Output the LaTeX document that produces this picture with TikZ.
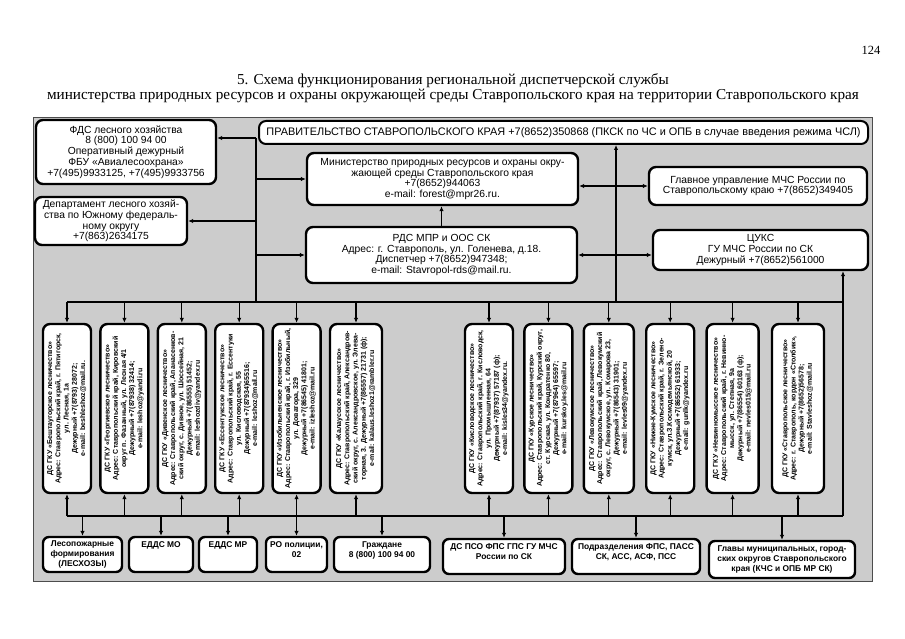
\documentclass[tikz,border=0pt]{standalone}
\usepackage{fontspec}
\setmainfont{Liberation Sans}
\newfontfamily\titlefont{Liberation Serif}
\usepackage{graphicx}
\usetikzlibrary{arrows.meta,positioning}
\tikzset{
frame_bg/.style={draw=black!70, line width=0.8pt, fill=black!20},
top_box/.style={rectangle, rounded corners=7pt, draw, line width=2.4pt, fill=white, align=center, inner sep=1pt, font=\fontsize{10.3}{10.8}\selectfont},
ds_box/.style={rectangle, rounded corners=7pt, draw, line width=2.4pt, fill=white, inner sep=0pt, minimum width=48pt, minimum height=169pt, font=\bfseries\fontsize{7}{8.2}\selectfont},
low_box/.style={rectangle, rounded corners=6pt, draw, line width=2.4pt, fill=white, align=center, inner sep=1pt, minimum height=35pt, font=\bfseries\fontsize{8.4}{10.2}\selectfont},
link/.style={line width=1.3pt},
>={Latex[length=5pt,width=4.5pt]}
}
\newcommand{\dstext}[1]{\rotatebox{90}{\begin{tabular}{@{}c@{}}#1\end{tabular}}}

\begin{document}
\begin{tikzpicture}[x=1pt,y=-1pt]
    \useasboundingbox (0,0) rectangle (905,639);
    \node[font=\titlefont\fontsize{12.5}{13}\selectfont] (page_no) at (871,50) {124};
    \node[font=\titlefont\fontsize{15.2}{15}\selectfont, align=center] (title) at (453,88) {5. Схема функционирования региональной диспетчерской службы\\ министерства природных ресурсов и охраны окружающей среды Ставропольского края на территории Ставропольского края};
    \draw[frame_bg] (33,117) rectangle (872,581);

    % upper level
    \node[top_box, minimum width=180pt, minimum height=64pt] (fds) at (126,152) {ФДС лесного хозяйства\\ 8 (800) 100 94 00\\ Оперативный дежурный\\ ФБУ «Авиалесоохрана»\\ +7(495)9933125, +7(495)9933756};
    \node[top_box, minimum width=152pt, minimum height=48pt] (dep) at (111,221) {Департамент лесного хозяй-\\ ства по Южному федераль-\\ ному округу\\ +7(863)2634175};
    \node[top_box, minimum width=609pt, minimum height=23pt, line width=2pt, font=\fontsize{10.9}{11}\selectfont] (prav) at (563.5,132.5) {ПРАВИТЕЛЬСТВО СТАВРОПОЛЬСКОГО КРАЯ +7(8652)350868 (ПКСК по ЧС и ОПБ в случае введения режима ЧСЛ)};
    \node[top_box, minimum width=271pt, minimum height=52pt] (min) at (442.5,179) {Министерство природных ресурсов и охраны окру-\\ жающей среды Ставропольского края\\ +7(8652)944063\\ e-mail: forest@mpr26.ru.};
    \node[top_box, minimum width=218pt, minimum height=38pt] (gu) at (758,186) {Главное управление МЧС России по\\ Ставропольскому краю +7(8652)349405};
    \node[top_box, minimum width=271pt, minimum height=56pt] (rds) at (441.5,255) {РДС МПР и ООС СК\\ Адрес: г. Ставрополь, ул. Голенева, д.18.\\ Диспетчер +7(8652)947348;\\ e-mail: Stavropol-rds@mail.ru.};
    \node[top_box, minimum width=215pt, minimum height=40pt] (cuks) at (760.5,250) {ЦУКС\\ ГУ МЧС России по СК\\ Дежурный +7(8652)561000};

    % forestries, left group
    \node[ds_box] (ds_1) at (67,408.5) {\dstext{ДС ГКУ «Бештаугорское лесничество»\\ Адрес: Ставропольский край, г. Пятигорск,\\ ул. Лесная, 1а\\ Дежурный +7(8793) 28072;\\ e-mail: beshleshoz@mail.ru.}};
    \node[ds_box] (ds_2) [right=7pt of ds_1] {\dstext{ДС ГКУ «Георгиевское лесничество»\\ Адрес: Ставропольский край, Кировский\\ округ п. Фазанный, ул. Лесная 4/1\\ Дежурный +7(87938) 32414;\\ e-mail: leshoz@yandi.ru}};
    \node[ds_box] (ds_3) [right=7pt of ds_2] {\dstext{ДС ГКУ «Дивенское лесничество»\\ Адрес: Ставропольский край, Апанасенков-\\ ский округ, с. Дивное, ул. Шоссейная, 21\\ Дежурный +7(86555) 51452;\\ e-mail: leshozdiv@yandex.ru}};
    \node[ds_box] (ds_4) [right=7pt of ds_3] {\dstext{ДС ГКУ «Ессентукское лесничество»\\ Адрес: Ставропольский край, г. Ессентуки\\ ул. Кисловодская, 55\\ Дежурный +7(87934)65516;\\ e-mail: leshoz@mail.ru}};
    \node[ds_box] (ds_5) [right=7pt of ds_4] {\dstext{ДС ГКУ «Изобильненское лесничество»\\ Адрес: Ставропольский край, г. Изобильный,\\ ул. Доватора, 329\\ Дежурный +7(86545) 41801;\\ e-mail: izleshoz@mail.ru}};
    \node[ds_box, minimum width=52pt] (ds_6) [right=7pt of ds_5] {\dstext{ДС ГКУ «Калаусское лесничество»\\ Адрес: Ставропольский край, Александров-\\ ский округ, с. Александровское, ул. Элева-\\ торная, 3. Дежурный +7(86557) 21731 (ф);\\ e-mail: kalaus.leshoz1@rambler.ru}};

    % forestries, right group
    \node[ds_box] (ds_7) at (489,408.5) {\dstext{ДС ГКУ «Кисловодское лесничество»\\ Адрес: Ставропольский край, г. Кисловодск,\\ ул. Промышленная, 64\\ Дежурный +7(87937) 57187 (ф);\\ e-mail: kisles34@yandex.ru.}};
    \node[ds_box] (ds_8) [right=9pt of ds_7] {\dstext{ДС ГКУ «Курское лесничество»\\ Адрес: Ставропольский край, Курский округ,\\ ст. Курская, ул. Кондратенко 80,\\ Дежурный +7(87964) 65597;\\ e-mail: kurskoy.les@mail.ru}};
    \node[ds_box, minimum width=50pt] (ds_9) [right=9pt of ds_8] {\dstext{ДС ГКУ «Левокумское лесничество»\\ Адрес: Ставропольский край, Левокумский\\ округ, с. Левокумское, ул. Комарова 23,\\ Дежурный +7(86543) 31901;\\ e-mail: levles09@yandex.ru}};
    \node[ds_box] (ds_10) [right=10pt of ds_9] {\dstext{ДС ГКУ «Нижне-Кумское лесничество»\\ Адрес: Ставропольский край, г. Зелено-\\ кумск, ул.З.Космодемьянской, 20\\ Дежурный +7(86552) 61933;\\ e-mail: gunlk@yandex.ru}};
    \node[ds_box, minimum width=52pt] (ds_11) [right=10pt of ds_10] {\dstext{ДС ГКУ «Невинномысское лесничество»\\ Адрес: Ставропольский край, г. Невинно-\\ мысск, ул. Степная, 9а\\ Дежурный +7(86554) 60163 (ф);\\ e-mail: nevles015@mail.ru}};
    \node[ds_box, minimum width=52pt] (ds_12) [right=11pt of ds_11] {\dstext{ДС ГКУ «Ставропольское лесничество»\\ Адрес: г. Ставрополь, кордон «Столбик»,\\ Дежурный +7(8652)56578;\\ e-mail: Stavleshoz@mail.ru}};

    % lower level
    \node[low_box, minimum width=79pt] (low_1) at (82.5,554.5) {Лесопожарные\\ формирования\\ (ЛЕСХОЗЫ)};
    \node[low_box, minimum width=64pt] (low_2) at (161,554.5) {ЕДДС МО\\ ~\\ ~};
    \node[low_box, minimum width=58pt] (low_3) at (228,554.5) {ЕДДС МР\\ ~\\ ~};
    \node[low_box, minimum width=61pt] (low_4) at (296.5,554.5) {РО полиции,\\ 02\\ ~};
    \node[low_box, minimum width=96pt] (low_5) at (382,554.5) {Граждане\\ 8 (800) 100 94 00\\ ~};
    \node[low_box, minimum width=122pt] (low_6) at (504,556.5) {ДС ПСО ФПС ГПС ГУ МЧС\\ России по СК\\ ~};
    \node[low_box, minimum width=128pt] (low_7) at (636,556.5) {Подразделения ФПС, ПАСС\\ СК, АСС, АСФ, ПСС\\ ~};
    \node[low_box, minimum width=146pt, minimum height=37pt] (low_8) at (782,559.5) {Главы муниципальных, город-\\ ских округов Ставропольского\\ края (КЧС и ОПБ МР СК)};

    % connectors
    \coordinate (bus_top) at (450,302);
    \coordinate (bus_bot) at (450,516);
    \coordinate (trunk) at (256,138);
    \coordinate (centre_line) at (616,302);
    \coordinate (right_line) at (843,516);
    \draw[link] (ds_1.north |- bus_top) -- (right_line |- bus_top);
    \draw[link] (ds_1.south |- bus_bot) -- (right_line);
    \draw[link, ->] (right_line) -- (right_line |- cuks.south);
    \draw[link] (trunk) -- (trunk |- bus_top);
    \draw[link, ->] (trunk) -- (trunk -| fds.east);
    \draw[link, ->] (trunk |- dep.east) -- (dep.east);
    \draw[link, ->] (trunk |- min.west) -- (min.west);
    \draw[link, ->] (trunk |- rds.west) -- (rds.west);
    \draw[link, ->] (rds.north) -- (rds.north |- min.south);
    \draw[link, ->] (centre_line) -- (centre_line |- prav.south);
    \draw[link, <->] (gu.west -| min.east) -- (gu.west);
    \draw[link, <->] (rds.east) -- (rds.east -| cuks.west);
    \foreach \n in {1,...,12} {
        \draw[link, ->] (ds_\n.north |- bus_top) -- (ds_\n.north);
        \draw[link, ->] (ds_\n.south |- bus_bot) -- (ds_\n.south);
    }
    \foreach \n in {1,...,8}
        \draw[link, ->] (low_\n.north |- bus_bot) -- (low_\n.north);
\end{tikzpicture}
\end{document}
